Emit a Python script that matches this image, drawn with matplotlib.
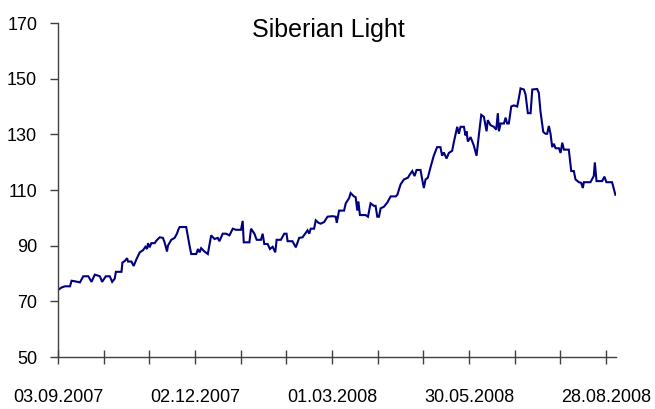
import matplotlib
matplotlib.use("Agg")
import matplotlib.pyplot as plt

title = "Siberian Light"
x_tick_labels = ["03.09.2007", "02.12.2007", "01.03.2008", "30.05.2008", "28.08.2008"]
y_ticks = [50, 70, 90, 110, 130, 150, 170]

# days since 03.09.2007
days = [
    0, 2.4, 4.6, 7.9, 8.9, 11.1, 14.4, 16.6, 19.9, 22.0,
    24.2, 27.5, 29.0, 31.4, 34.0, 35.6, 37.3, 38.0, 41.7, 42.3,
    43.9, 45.4, 46.0, 48.2, 49.7, 51.5, 53.7, 55.9, 57.4, 58.5,
    59.1, 60.2, 61.3, 63.5, 64.6, 66.8, 68.9, 70.0, 71.6, 72.2,
    74.4, 76.6, 78.1, 79.0, 79.9, 84.2, 86.4, 87.5, 90.8, 91.9,
    93.0, 94.0, 96.2, 98.4, 100.6, 102.8, 104.9, 106.0, 108.2, 110.4,
    112.6, 114.8, 116.9, 120.2, 121.3, 122.0, 125.7, 126.8, 129.0, 130.5,
    133.3, 134.4, 135.5, 137.7, 139.2, 141.0, 142.7, 143.6, 146.4, 148.6,
    150.1, 150.8, 154.0, 156.2, 158.4, 160.6, 162.3, 163.9, 165.0, 166.0,
    168.2, 169.3, 171.1, 172.6, 174.8, 177.0, 180.2, 182.4, 183.1, 184.6,
    187.9, 189.0, 191.2, 192.2, 194.4, 195.5, 196.6, 197.3, 198.3, 202.0,
    203.6, 205.3, 207.5, 208.6, 209.7, 210.8, 211.9, 214.1, 216.3, 218.5,
    221.8, 222.9, 225.0, 227.2, 229.8, 231.1, 232.7, 234.2, 235.5, 238.1,
    239.2, 240.3, 241.4, 242.9, 244.6, 246.8, 249.0, 251.2, 252.3, 253.4,
    255.2, 256.7, 258.9, 260.0, 262.2, 263.3, 264.4, 266.6, 267.7, 268.3,
    269.2, 271.0, 273.1, 274.9, 276.4, 278.0, 279.7, 281.5, 282.3, 284.1,
    286.3, 287.8, 288.9, 289.6, 290.7, 292.9, 294.0, 295.0, 296.1, 297.7,
    299.4, 301.6, 302.7, 303.8, 306.0, 307.1, 308.6, 310.4, 311.5, 314.7,
    315.8, 316.9, 318.7, 320.2, 321.3, 322.4, 323.5, 324.6, 325.7, 326.8,
    329.0, 330.1, 331.2, 332.3, 335.5, 337.1, 338.8, 339.9, 342.1, 343.6,
    344.7, 345.4, 349.7, 351.9, 352.6, 353.7, 357.4, 358.9, 360.2, 363.9,
    366.1,
]
prices = [
    74.1, 75.0, 75.4, 75.4, 77.4, 77.2, 76.8, 79.0, 79.0, 77.0,
    79.6, 79.0, 77.0, 79.0, 79.0, 77.0, 78.2, 80.6, 80.6, 83.9,
    84.5, 85.5, 84.3, 84.3, 82.7, 85.1, 87.6, 88.4, 89.6, 88.8,
    90.9, 89.4, 90.9, 90.9, 91.8, 93.0, 92.8, 91.2, 87.9, 90.0,
    92.1, 92.8, 94.3, 95.7, 96.7, 96.7, 90.0, 87.0, 87.0, 88.8,
    87.6, 89.1, 87.9, 87.0, 93.7, 92.4, 92.8, 91.6, 94.3, 94.3,
    93.7, 96.1, 95.7, 95.7, 98.9, 91.2, 91.2, 96.1, 94.3, 92.1,
    92.1, 94.3, 90.6, 90.6, 88.8, 89.6, 87.6, 92.1, 92.1, 94.3,
    94.3, 91.6, 91.6, 89.4, 92.8, 93.0, 94.3, 95.5, 94.3, 96.1,
    96.1, 99.1, 98.2, 97.9, 98.5, 100.4, 100.6, 100.4, 98.2, 102.6,
    102.6, 105.2, 107.1, 108.9, 107.7, 107.4, 102.6, 105.9, 101.0, 101.0,
    100.4, 105.2, 104.3, 104.3, 100.4, 100.4, 103.4, 104.0, 105.5, 107.7,
    107.7, 108.3, 112.0, 113.8, 114.4, 115.6, 116.8, 115.0, 117.2, 117.2,
    113.8, 110.7, 113.8, 114.4, 118.0, 122.3, 125.4, 125.4, 122.3, 123.5,
    121.3, 123.3, 124.1, 127.2, 132.7, 130.2, 132.7, 132.7, 129.6, 131.1,
    127.4, 129.0, 126.0, 122.3, 129.6, 137.0, 136.3, 131.1, 135.1, 133.3,
    132.7, 131.7, 137.6, 131.1, 133.9, 133.9, 136.0, 133.9, 133.9, 140.0,
    140.4, 140.0, 143.0, 146.5, 146.1, 144.3, 137.6, 137.6, 146.1, 146.3,
    144.9, 138.2, 130.9, 130.2, 130.2, 133.0, 130.2, 125.4, 126.6, 125.0,
    125.0, 123.3, 127.0, 124.5, 124.5, 116.8, 116.8, 113.8, 112.8, 112.6,
    110.7, 112.8, 112.8, 115.0, 119.9, 113.2, 113.2, 114.8, 112.8, 112.8,
    108.3,
]
assert len(days) == len(prices)

W, H = 655, 409
fig = plt.figure(figsize=(W / 100, H / 100), dpi=100)
fig.patch.set_facecolor("white")
L, R, T, B = 58, 616, 23, 357
ax = fig.add_axes([L / W, 1 - B / H, (R - L) / W, (B - T) / H])

ax.plot(days, prices, color="#000080", lw=1.5, solid_joinstyle="miter")

ax.set_xlim(0, 366.5)
ax.set_ylim(50, 170)
ax.set_yticks(y_ticks)
ax.set_yticklabels([str(v) for v in y_ticks])
major = list(range(0, 361, 30))
ax.set_xticks(major)
labels = []
for d in major:
    labels.append(x_tick_labels[d // 90] if d % 90 == 0 else "")
ax.set_xticklabels(labels)

for s in ["top", "right"]:
    ax.spines[s].set_visible(False)
for s in ["left", "bottom"]:
    ax.spines[s].set_color("#404040")
    ax.spines[s].set_linewidth(1.0)

font = "Liberation Sans"
ax.tick_params(axis="y", direction="out", length=6, width=1, color="#404040",
               pad=9, labelsize=13, labelcolor="black")
ax.tick_params(axis="x", direction="inout", length=10, width=1, color="#404040",
               pad=18, labelsize=13, labelcolor="black")
for lab in ax.get_xticklabels() + ax.get_yticklabels():
    lab.set_fontfamily(font)

fig.text(328.5 / W, 1 - 37 / H, title, ha="center", va="baseline",
         fontsize=18, fontfamily=font, color="black")

fig.savefig("out.png", dpi=100)
